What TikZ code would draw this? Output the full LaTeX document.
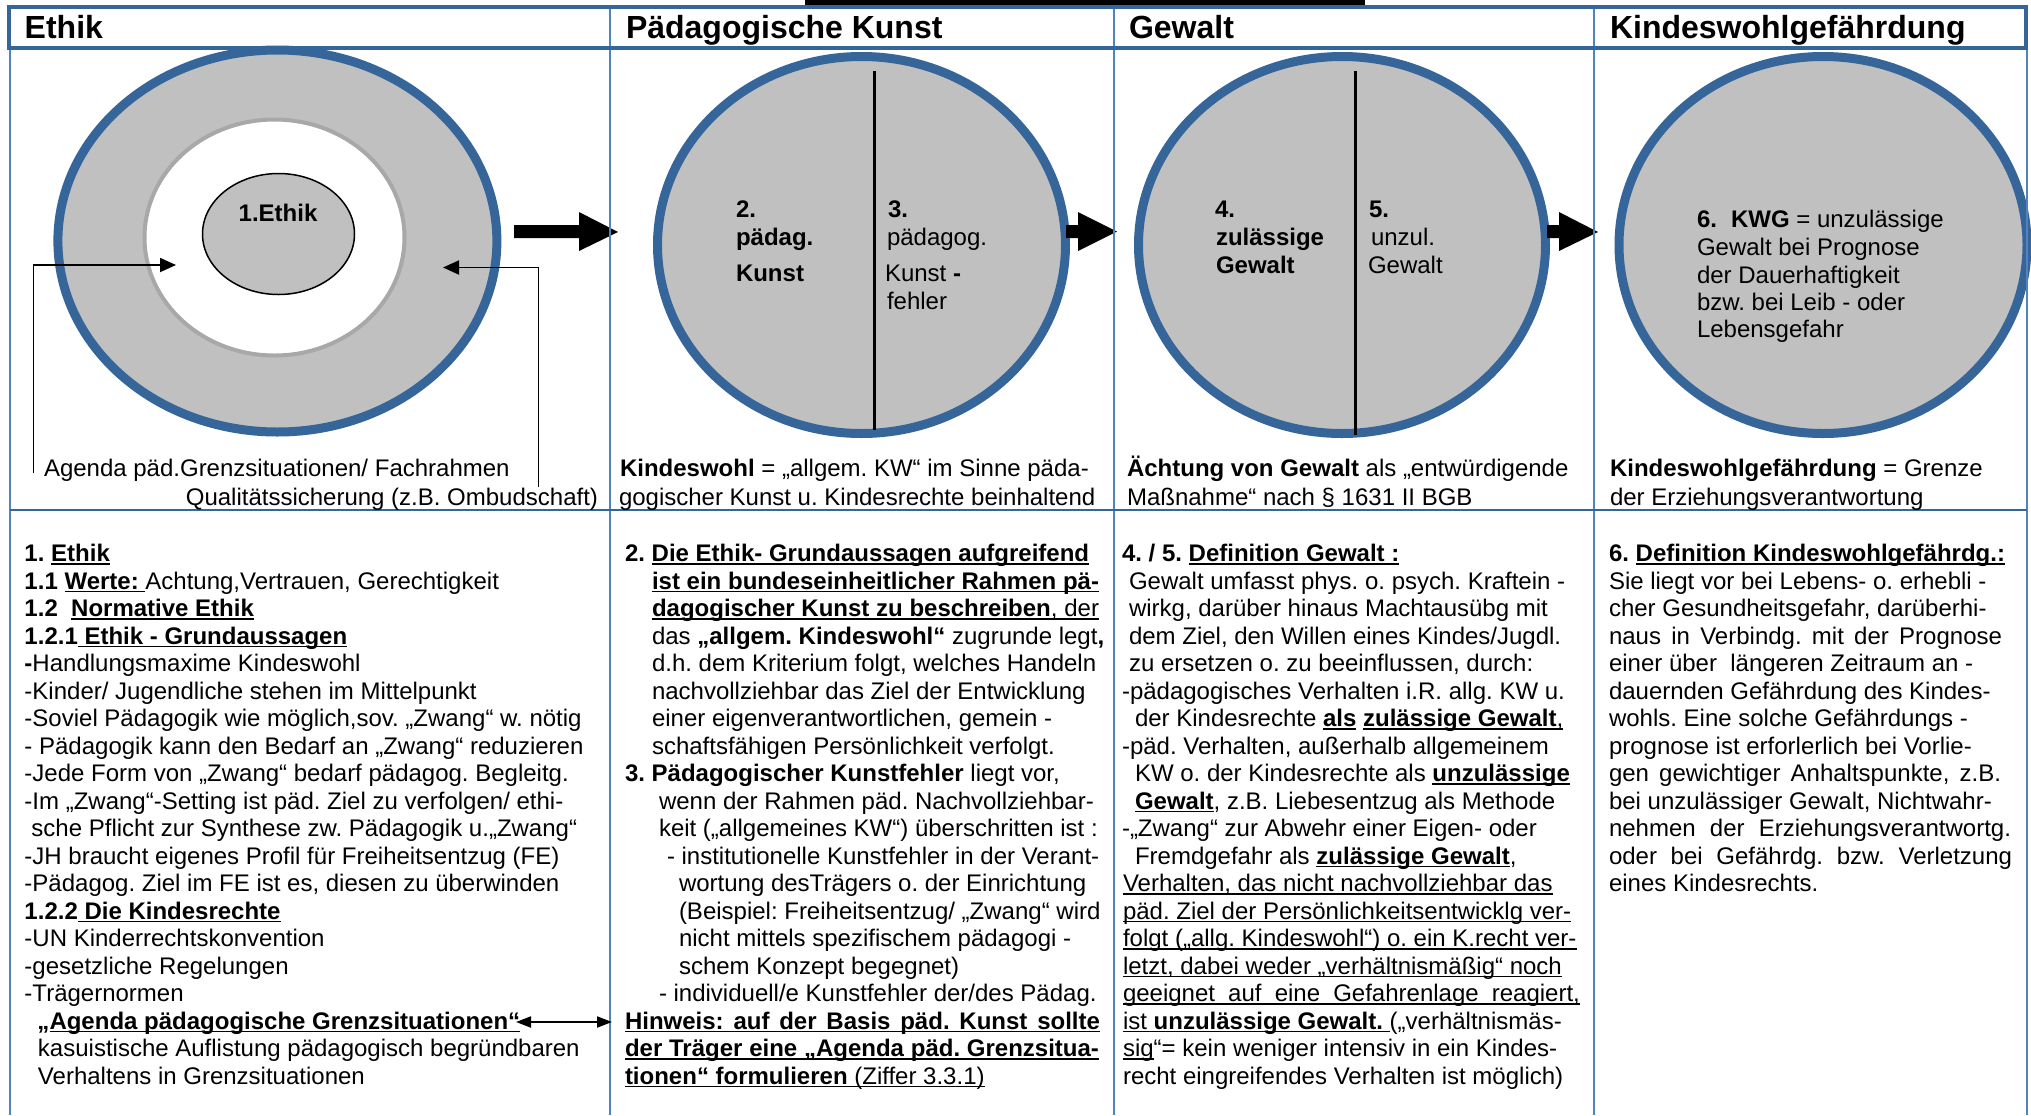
\documentclass[tikz,border=0pt]{standalone}
\usepackage{fontspec}
\setmainfont{Liberation Sans}
\usetikzlibrary{arrows.meta,shapes.geometric}
\definecolor{ringblue}{RGB}{53,101,153}
\definecolor{lineblue}{RGB}{84,130,188}
\definecolor{fillgrey}{RGB}{192,192,192}
\definecolor{ringgrey}{RGB}{168,168,168}
\newsavebox\ulbox
\newcommand\myul[1]{\sbox\ulbox{#1}\rlap{\rule[-1.7pt]{\wd\ulbox}{0.9pt}}\usebox\ulbox}
\frenchspacing
\tikzset{
  txt/.style={anchor=base west, inner sep=0pt, outer sep=0pt, font=\fontsize{12}{14}\selectfont\frenchspacing},
  hdr/.style={anchor=base west, inner sep=0pt, outer sep=0pt, font=\fontsize{16}{18}\selectfont\bfseries},
  bigoval/.style={ellipse, draw=ringblue, line width=4.5pt, fill=fillgrey, inner sep=0pt},
  conn/.style={line width=0.9pt, -{Triangle[length=8pt,width=7pt]}},
  thinline/.style={lineblue, line width=0.75pt},
}
\begin{document}
\begin{tikzpicture}[x=0.5pt,y=-0.5pt]
\useasboundingbox (0,0) rectangle (2031,1115);
\fill[white] (0,0) rectangle (2031,1115);
\fill[black] (805,0) rectangle (1365,5);

% ellipses
\node[bigoval, minimum width=219.5pt, minimum height=191pt] (ethik) at (277.4,241) {};
\node[ellipse, draw=ringgrey, line width=2pt, fill=white, inner sep=0pt, minimum width=130pt, minimum height=118pt] (inner) at (274.5,237.5) {};
\node[ellipse, draw=black, line width=0.75pt, fill=fillgrey, inner sep=0pt, minimum width=76pt, minimum height=60.5pt] (core) at (278.5,234) {};
\node[bigoval, minimum width=204pt, minimum height=188.5pt] (pad) at (861.5,245) {};
\node[bigoval, minimum width=203.5pt, minimum height=188.5pt] (gew) at (1342,245) {};
\node[bigoval, minimum width=204pt, minimum height=188.5pt] (kwg) at (1823,245) {};

\draw[line width=1.5pt] (874,71) -- (874,430);
\draw[line width=1.5pt] (1355,71) -- (1355,435);

% block arrows
\fill[black] (514,225) -- (579,225) -- (579,212) -- (618,232) -- (579,251) -- (579,238) -- (514,238) -- cycle;
\fill[black] (1066,225) -- (1078,225) -- (1078,212) -- (1117,231.5) -- (1078,251) -- (1078,238) -- (1066,238) -- cycle;
\fill[black] (1547,225) -- (1559,225) -- (1559,212) -- (1598,232) -- (1559,251) -- (1559,238) -- (1547,238) -- cycle;

% frame
\draw[thinline] (10,48) -- (10,1115);
\draw[thinline] (610,7) -- (610,1115);
\draw[thinline] (1114,7) -- (1114,1115);
\draw[thinline] (1594,7) -- (1594,1115);
\draw[thinline] (2027,48) -- (2027,1115);
\draw[ringblue, line width=1.65pt] (9,7) rectangle (2026,48);
\draw[ringblue, line width=1pt] (10,510) -- (2027,510);

% headers
\node[hdr] (h1) at (24.7,38.3) {Ethik};
\node[hdr] (h2) at (626,38.3) {Pädagogische Kunst};
\node[hdr] (h3) at (1129,38.3) {Gewalt};
\node[hdr] (h4) at (1610,38.3) {Kindeswohlgefährdung};

% ellipse texts
\node[txt, anchor=base, font=\fontsize{12}{14}\selectfont\bfseries] (coretxt) at (278,221) {1.Ethik};
\node[txt] (p1) at (736,217) {\textbf{2.}};
\node[txt] (p2) at (736,245) {\textbf{pädag.}};
\node[txt] (p3) at (736,281) {\textbf{Kunst}};
\node[txt] (p4) at (888,217) {\textbf{3.}};
\node[txt] (p5) at (887,245) {pädagog.};
\node[txt] (p6) at (885,281) {Kunst \textbf{-}};
\node[txt] (p7) at (887,309) {fehler};
\node[txt] (g1) at (1215,217) {\textbf{4.}};
\node[txt] (g2) at (1216,245) {\textbf{zulässige}};
\node[txt] (g3) at (1216,273) {\textbf{Gewalt}};
\node[txt] (g4) at (1369,217) {\textbf{5.}};
\node[txt] (g5) at (1371,245) {unzul.};
\node[txt] (g6) at (1368,273) {Gewalt};
\node[txt] (k1) at (1697,227) {\textbf{6.\hspace{7pt}KWG} = unzulässige};
\node[txt] (k2) at (1697,255) {Gewalt bei Prognose};
\node[txt] (k3) at (1697,283) {der Dauerhaftigkeit};
\node[txt] (k4) at (1697,310) {bzw. bei Leib - oder};
\node[txt] (k5) at (1697,337.5) {Lebensgefahr};

% captions
\node[txt] (ca1) at (44,476) {Agenda päd.Grenzsituationen/ Fachrahmen};
\node[txt, anchor=base east] (ca2) at (598,505) {Qualitätssicherung (z.B. Ombudschaft)};
\node[txt] (cb1) at (620,476) {\textbf{Kindeswohl} = „allgem. KW“ im Sinne päda-};
\node[txt] (cb2) at (619,505) {gogischer Kunst u. Kindesrechte beinhaltend};
\node[txt] (cc1) at (1127,476) {\textbf{Ächtung von Gewalt} als „entwürdigende};
\node[txt] (cc2) at (1127,505) {Maßnahme“ nach § 1631 II BGB};
\node[txt] (cd1) at (1610,476) {\textbf{Kindeswohlgefährdung} = Grenze};
\node[txt] (cd2) at (1610,505) {der Erziehungsverantwortung};

% connectors in Ethik panel
\coordinate (agendaEnd) at (33.5,473);
\coordinate (tipL) at (176,265);
\draw[conn] (agendaEnd) |- (tipL);
\coordinate (qualEnd) at (538.5,487);
\coordinate (tipR) at (443,267.5);
\draw[conn] (qualEnd) |- (tipR);

% column 1
\node[txt] (a0) at (24.5,561.5) {\textbf{1. \myul{Ethik}}};
\node[txt] (a1) at (24.5,589) {\textbf{1.1 \myul{Werte: }}Achtung,Vertrauen, Gerechtigkeit};
\node[txt] (a2) at (24.5,616.5) {\textbf{1.2\ \ \myul{Normative Ethik}}};
\node[txt] (a3) at (24.5,644) {\textbf{1.2.1\myul{ Ethik - Grundaussagen}}};
\node[txt] (a4) at (24.5,671.5) {\textbf{-}Handlungsmaxime Kindeswohl};
\node[txt] (a5) at (24.5,699) {-Kinder/ Jugendliche stehen im Mittelpunkt};
\node[txt] (a6) at (24.5,726.5) {-Soviel Pädagogik wie möglich,sov. „Zwang“ w. nötig};
\node[txt] (a7) at (24.5,754) {- Pädagogik kann den Bedarf an „Zwang“ reduzieren};
\node[txt] (a8) at (24.5,781.5) {-Jede Form von „Zwang“ bedarf pädagog. Begleitg.};
\node[txt] (a9) at (24.5,809) {-Im „Zwang“-Setting ist päd. Ziel zu verfolgen/ ethi-};
\node[txt] (a10) at (31.5,836.5) {sche Pflicht zur Synthese zw. Pädagogik u.„Zwang“};
\node[txt] (a11) at (24.5,864) {-JH braucht eigenes Profil für Freiheitsentzug (FE)};
\node[txt] (a12) at (24.5,891.5) {-Pädagog. Ziel im FE ist es, diesen zu überwinden};
\node[txt] (a13) at (24.5,919) {\textbf{1.2.2\myul{ Die Kindesrechte}}};
\node[txt] (a14) at (24.5,946.5) {-UN Kinderrechtskonvention};
\node[txt] (a15) at (24.5,974) {-gesetzliche Regelungen};
\node[txt] (a16) at (24.5,1001.5) {-Trägernormen};
\node[txt] (a17) at (37.5,1029) {\textbf{„\myul{Agenda pädagogische Grenzsituationen“}}};
\node[txt] (a18) at (38,1056.5) {kasuistische Auflistung pädagogisch begründbaren};
\node[txt] (a19) at (38,1084) {Verhaltens in Grenzsituationen};

% double arrow
\coordinate (dl) at (516,1022);
\coordinate (dr) at (612,1022);
\draw[line width=1pt, {Triangle[length=7.5pt,width=5.5pt]}-{Triangle[length=7.5pt,width=5.5pt]}] (dl) -- (dr);

% column 2
\node[txt] (b0) at (625,561.5) {\textbf{2. \myul{Die Ethik- Grundaussagen aufgreifend}}};
\node[txt] (b1) at (652,589) {\myul{\makebox[223.5pt][s]{\textbf{ist ein bundeseinheitlicher Rahmen pä-}}}};
\node[txt] (b2) at (652,616.5) {\myul{\makebox[223.5pt][s]{\textbf{dagogischer Kunst zu beschreiben}, der}}};
\node[txt] (b3) at (652,644) {das \textbf{„allgem. Kindeswohl“} zugrunde legt\textbf{,}};
\node[txt] (b4) at (652,671.5) {d.h. dem Kriterium folgt, welches Handeln};
\node[txt] (b5) at (652,699) {nachvollziehbar das Ziel der Entwicklung};
\node[txt] (b6) at (652,726.5) {einer eigenverantwortlichen, gemein -};
\node[txt] (b7) at (652,754) {schaftsfähigen Persönlichkeit verfolgt.};
\node[txt] (b8) at (625,781.5) {\textbf{3. Pädagogischer Kunstfehler} liegt vor,};
\node[txt] (b9) at (659,809) {wenn der Rahmen päd. Nachvollziehbar-};
\node[txt] (b10) at (659,836.5) {keit („allgemeines KW“) überschritten ist :};
\node[txt] (b11) at (667,864) {- institutionelle Kunstfehler in der Verant-};
\node[txt] (b12) at (679,891.5) {wortung desTrägers o. der Einrichtung};
\node[txt] (b13) at (679,919) {(Beispiel: Freiheitsentzug/ „Zwang“ wird};
\node[txt] (b14) at (679,946.5) {nicht mittels spezifischem pädagogi -};
\node[txt] (b15) at (679,974) {schem Konzept begegnet)};
\node[txt] (b16) at (659,1001.5) {- individuell/e Kunstfehler der/des Pädag.};
\node[txt] (b17) at (625,1029) {\myul{\makebox[237.5pt][s]{\textbf{Hinweis: auf der Basis päd. Kunst sollte}}}};
\node[txt] (b18) at (625,1056.5) {\myul{\makebox[237pt][s]{\textbf{der Träger eine „Agenda päd. Grenzsitua-}}}};
\node[txt] (b19) at (625,1084) {\myul{\textbf{tionen“ formulieren} (Ziffer 3.3.1)}};

% column 3
\node[txt] (c0) at (1122,561.5) {\textbf{4. / 5. \myul{Definition Gewalt :}}};
\node[txt] (c1) at (1129,589) {Gewalt umfasst phys. o. psych. Kraftein -};
\node[txt] (c2) at (1129,616.5) {wirkg, darüber hinaus Machtausübg mit};
\node[txt] (c3) at (1129,644) {dem Ziel, den Willen eines Kindes/Jugdl.};
\node[txt] (c4) at (1129,671.5) {zu ersetzen o. zu beeinflussen, durch:};
\node[txt] (c5) at (1122,699) {-pädagogisches Verhalten i.R. allg. KW u.};
\node[txt] (c6) at (1135,726.5) {der Kindesrechte \textbf{\myul{als}} \myul{\textbf{zulässige Gewalt},}};
\node[txt] (c7) at (1122,754) {-päd. Verhalten, außerhalb allgemeinem};
\node[txt] (c8) at (1135,781.5) {KW o. der Kindesrechte als \textbf{\myul{unzulässige}}};
\node[txt] (c9) at (1135,809) {\textbf{\myul{Gewalt}}, z.B. Liebesentzug als Methode};
\node[txt] (c10) at (1122,836.5) {-„Zwang“ zur Abwehr einer Eigen- oder};
\node[txt] (c11) at (1135,864) {Fremdgefahr als \textbf{\myul{zulässige Gewalt}},};
\node[txt] (c12) at (1123,891.5) {\myul{Verhalten, das nicht nachvollziehbar das}};
\node[txt] (c13) at (1123,919) {\myul{päd. Ziel der Persönlichkeitsentwicklg ver-}};
\node[txt] (c14) at (1123,946.5) {\myul{folgt („allg. Kindeswohl“) o. ein K.recht ver-}};
\node[txt] (c15) at (1123,974) {\myul{letzt, dabei weder „verhältnismäßig“ noch}};
\node[txt] (c16) at (1123,1001.5) {\myul{\makebox[228.5pt][s]{geeignet auf eine Gefahrenlage reagiert,}}};
\node[txt] (c17) at (1123,1029) {\myul{ist \textbf{unzulässige Gewalt. }}(„verhältnismäs-};
\node[txt] (c18) at (1123,1056.5) {\myul{sig}“= kein weniger intensiv in ein Kindes-};
\node[txt] (c19) at (1123,1084) {recht eingreifendes Verhalten ist möglich)};

% column 4
\node[txt] (d0) at (1609,561.5) {\textbf{6. \myul{Definition Kindeswohlgefährdg.:}}};
\node[txt] (d1) at (1609,589) {Sie liegt vor bei Lebens- o. erhebli -};
\node[txt] (d2) at (1609,616.5) {cher Gesundheitsgefahr, darüberhi-};
\node[txt] (d3) at (1609,644) {\makebox[196.5pt][s]{naus in Verbindg. mit der Prognose}};
\node[txt] (d4) at (1609,671.5) {einer über\ \ längeren Zeitraum an -};
\node[txt] (d5) at (1609,699) {dauernden Gefährdung des Kindes-};
\node[txt] (d6) at (1609,726.5) {wohls. Eine solche Gefährdungs -};
\node[txt] (d7) at (1609,754) {prognose ist erforlerlich bei Vorlie-};
\node[txt] (d8) at (1609,781.5) {\makebox[196pt][s]{gen gewichtiger Anhaltspunkte, z.B.}};
\node[txt] (d9) at (1609,809) {bei unzulässiger Gewalt, Nichtwahr-};
\node[txt] (d10) at (1609,836.5) {\makebox[201pt][s]{nehmen der Erziehungsverantwortg.}};
\node[txt] (d11) at (1609,864) {\makebox[201.5pt][s]{oder bei Gefährdg. bzw. Verletzung}};
\node[txt] (d12) at (1609,891.5) {eines Kindesrechts.};
\end{tikzpicture}
\end{document}
